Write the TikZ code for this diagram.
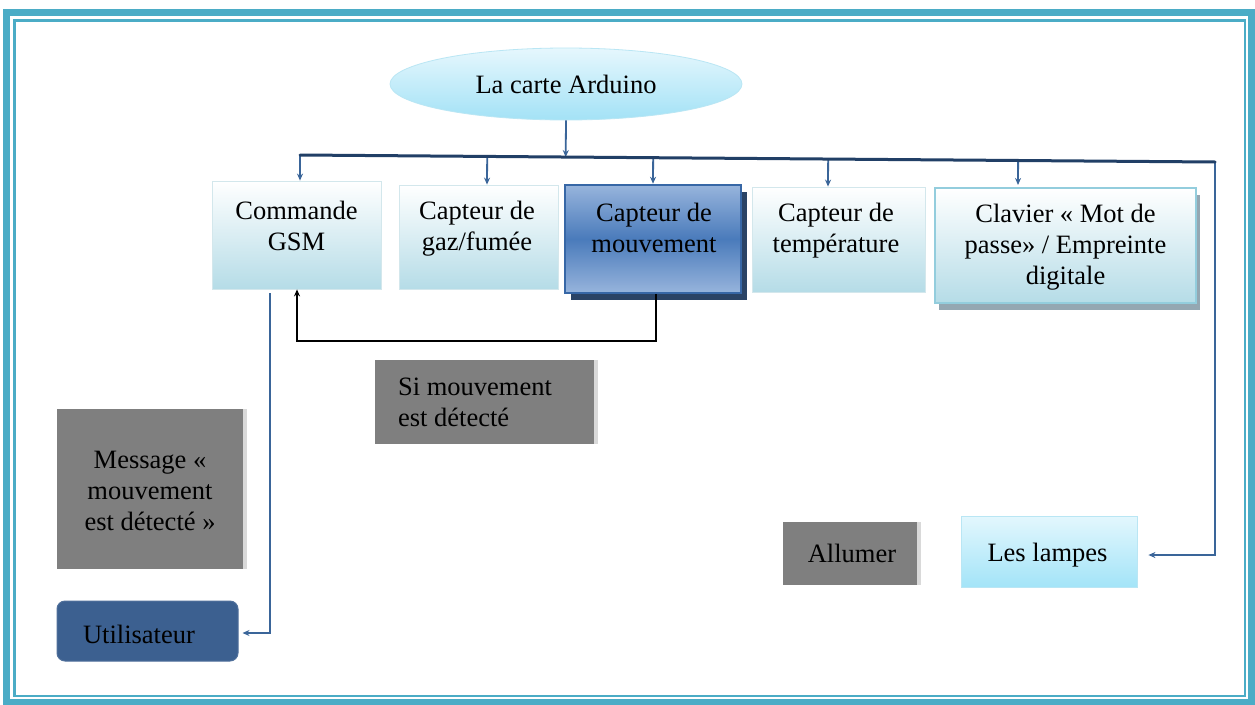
\documentclass[tikz,border=0pt]{standalone}
\usepackage{fontspec}
\setmainfont{Liberation Serif}
\usetikzlibrary{shapes.geometric,arrows.meta,calc,shadows}
\definecolor{frameC}{HTML}{4BACC6}
\definecolor{ellTop}{HTML}{E6F7FD}
\definecolor{ellBot}{HTML}{A3E2F6}
\definecolor{ellEdge}{HTML}{B9E6F4}
\definecolor{boxBot}{HTML}{B5DCE7}
\definecolor{boxEdge}{HTML}{D3E7EC}
\definecolor{mouvLight}{HTML}{97B4DC}
\definecolor{mouvMid}{HTML}{4A7BBB}
\definecolor{mouvEdge}{HTML}{3767A6}
\definecolor{mouvShadow}{HTML}{2A4365}
\definecolor{clavEdge}{HTML}{93CDDD}
\definecolor{clavShadow}{HTML}{94A7B2}
\definecolor{grayC}{HTML}{7F7F7F}
\definecolor{bevelC}{HTML}{D9D9D9}
\definecolor{utilC}{HTML}{3C6090}
\definecolor{lampTop}{HTML}{E3F7FD}
\definecolor{lampBot}{HTML}{A3E4F8}
\definecolor{connC}{HTML}{3A6599}
\definecolor{busC}{HTML}{213F66}
\begin{document}
\begin{tikzpicture}[x=1pt,y=-1pt,
  every node/.style={font=\fontsize{26.5}{31}\selectfont, text=black},
  txt/.style={align=center, inner sep=0},
  ell/.style={ellipse, minimum width=352, minimum height=72, inner sep=0,
    top color=ellTop, bottom color=ellBot, draw=ellEdge, line width=0.8},
  lightbox/.style={rectangle, inner sep=0, top color=white, bottom color=boxBot,
    draw=boxEdge, line width=0.8},
  mouvbox/.style={rectangle, inner sep=0, top color=mouvLight,
    bottom color=mouvLight, middle color=mouvMid, draw=mouvEdge, line width=2.5,
    drop shadow={shadow xshift=6pt, shadow yshift=-7pt, fill=mouvShadow, opacity=1}},
  clavbox/.style={rectangle, inner sep=0, top color=white, bottom color=boxBot,
    draw=clavEdge, line width=2,
    drop shadow={shadow xshift=4pt, shadow yshift=-7pt, fill=clavShadow, opacity=1}},
  graybox/.style={rectangle, inner sep=0, fill=grayC,
    path picture={\fill[bevelC] ([xshift=-4pt]path picture bounding box.north east)
      rectangle (path picture bounding box.south east);}},
  lampbox/.style={rectangle, inner sep=0, top color=lampTop, bottom color=lampBot,
    draw=ellEdge, line width=0.8},
  userbox/.style={rectangle, rounded corners=8pt, inner sep=0, fill=utilC,
    draw=utilC!90!white, line width=1},
  conn/.style={draw=connC, line width=1.8, -{Stealth[length=7pt,width=6pt]}},
  bus/.style={draw=busC, line width=3},
  back/.style={draw=black, line width=2, -{Stealth[length=7pt,width=6pt]}}
]
\useasboundingbox (0,0) rectangle (1255,704);
\fill[white] (0,0) rectangle (1255,704);
% frame
\draw[frameC, line width=7] (6.5,12.5) rectangle (1251.5,702);
\draw[frameC, line width=2.5] (14.5,20.5) rectangle (1245,696);

% top ellipse
\node[ell] (ard) at (566,84) {La carte Arduino};

% boxes
\node[lightbox, minimum width=169, minimum height=108,
  label={[txt,yshift=9pt]center:{Commande\\GSM}}] (cmd) at (296.5,235) {};
\node[lightbox, minimum width=159, minimum height=104,
  label={[txt,yshift=8.5pt,xshift=-1.5pt]center:{Capteur de\\gaz/fumée}}] (gaz) at (478.5,237) {};
\node[mouvbox, minimum width=176, minimum height=108,
  label={[txt,yshift=11pt,xshift=1pt]center:{Capteur de\\mouvement}}] (mouv) at (653,239) {};
\node[lightbox, minimum width=173, minimum height=105,
  label={[txt,yshift=8.5pt,xshift=-2.5pt]center:{Capteur de\\température}}] (temp) at (838.5,239.5) {};
\node[clavbox, minimum width=261, minimum height=115,
  label={[txt,yshift=-1.5pt]center:{Clavier « Mot de\\passe» / Empreinte\\digitale}}] (clav) at (1065.5,245.5) {};

\node[graybox, minimum width=223, minimum height=84,
  label={[txt,align=left,xshift=-11.5pt]center:{Si mouvement\\est détecté}}] (si) at (486.5,402) {};
\node[graybox, minimum width=190, minimum height=160,
  label={[txt,yshift=-2pt,xshift=-2pt]center:{Message «\\mouvement\\est détecté »}}] (msg) at (152,489) {};
\node[userbox, minimum width=181, minimum height=60,
  label={[txt,yshift=-3pt,xshift=-8.5pt]center:{Utilisateur}}] (util) at (147.5,631) {};

\node[graybox, minimum width=138, minimum height=63,
  label={[txt]center:{Allumer}}] (allum) at (852,553.5) {};
\node[lampbox, minimum width=176, minimum height=71,
  label={[txt,yshift=-3.5pt,xshift=-1.5pt]center:{Les lampes}}] (lamp) at (1049,551.5) {};

% bus
\coordinate (busL) at (300,155);
\coordinate (busR) at (1215,162);
\draw[conn] (ard.south) -- ($(busL)!(ard.south)!(busR)$);
\draw[conn] (busL) -- ([xshift=3.5pt]cmd.north);
\draw[conn] ($(busL)!([xshift=8.5pt]gaz.north)!(busR)$) -- ([xshift=8.5pt]gaz.north);
\draw[conn] ($(busL)!(mouv.north)!(busR)$) -- (mouv.north);
\draw[conn] ($(busL)!([xshift=-10.5pt]temp.north)!(busR)$) -- ([xshift=-10.5pt]temp.north);
\draw[conn] ($(busL)!([xshift=-47.5pt]clav.north)!(busR)$) -- ([xshift=-47.5pt,yshift=2pt]clav.north);
\draw[conn] (busR) |- ([xshift=11pt,yshift=-3.5pt]lamp.east);
\draw[bus, line cap=round] (busL) -- (busR);

% feedback paths
\draw[back] ([xshift=3pt]mouv.south) -- ++(0,47) -| ([xshift=0.5pt]cmd.south);
\draw[conn] ([xshift=-26.5pt,yshift=-4pt]cmd.south) |- ([xshift=4pt,yshift=-2pt]util.east);
\end{tikzpicture}
\end{document}
